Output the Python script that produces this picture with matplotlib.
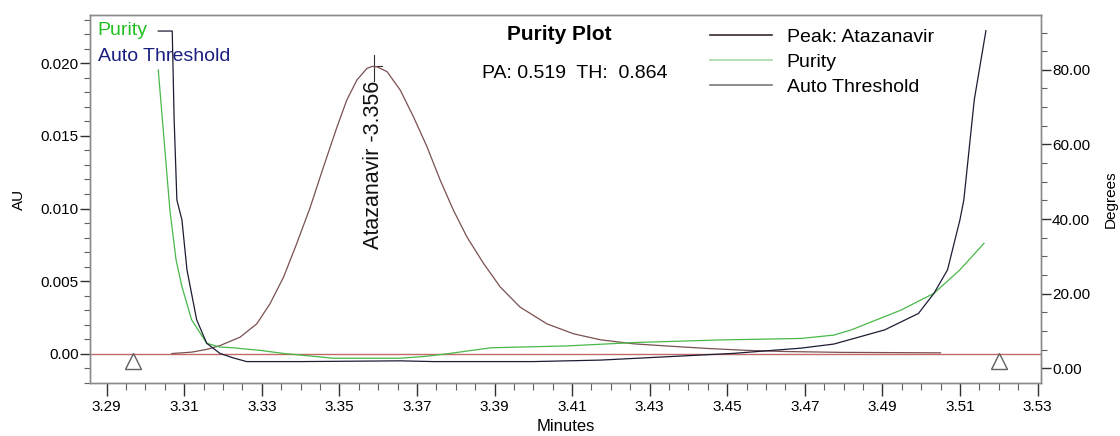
import matplotlib
matplotlib.use("Agg")
import matplotlib.pyplot as plt
from matplotlib.lines import Line2D

plt.rcParams['font.family'] = ['Liberation Sans', 'DejaVu Sans']

# ---------------- data ----------------
peak_x = [3.3068, 3.312, 3.316, 3.3192, 3.3244, 3.3287, 3.3321, 3.3356, 3.3390, 3.3425,
          3.3459, 3.3494, 3.3519, 3.3545, 3.3571, 3.3585, 3.3597, 3.3623, 3.3657, 3.3691,
          3.3726, 3.3760, 3.3794, 3.3829, 3.3872, 3.3915, 3.3966, 3.4035, 3.4104, 3.4173,
          3.4259, 3.4345, 3.445, 3.455, 3.465, 3.48, 3.505]
peak_au = [0.0, 0.0001, 0.0003, 0.00055, 0.00113, 0.00205, 0.00343, 0.00527, 0.00758, 0.0101,
           0.01287, 0.01563, 0.01747, 0.01885, 0.01966, 0.0198, 0.01977, 0.01943, 0.01816, 0.01632,
           0.01425, 0.01195, 0.00988, 0.00803, 0.0062, 0.00458, 0.0032, 0.00205, 0.00136, 0.00095,
           0.00067, 0.00052, 0.00035, 0.00022, 0.00014, 0.00008, 0.00005]

purity_x = [3.3033, 3.3048, 3.3063, 3.3079, 3.3094, 3.3119, 3.3158, 3.3192, 3.3226, 3.3296,
            3.3355, 3.3484, 3.3657, 3.3722, 3.3786, 3.389, 3.4087, 3.426, 3.4482, 3.469,
            3.4775, 3.482, 3.4948, 3.5033, 3.510, 3.5162]
purity_deg = [80.0, 61.2, 42.4, 29.0, 21.9, 13.0, 6.7, 5.7, 5.5, 4.8,
              4.0, 2.7, 2.7, 3.2, 4.0, 5.5, 6.0, 6.9, 7.6, 8.0,
              8.9, 10.3, 15.6, 20.1, 26.4, 33.5]

thresh_x = [3.3033, 3.3069, 3.3074, 3.3081, 3.3094, 3.3107, 3.3132, 3.3158, 3.3192, 3.3226,
            3.3261, 3.340, 3.3657, 3.3742, 3.400, 3.4173, 3.4345, 3.4516, 3.469, 3.4775,
            3.4906, 3.4993, 3.5033, 3.5068, 3.510, 3.511, 3.5137, 3.5167]
thresh_deg = [90.4, 90.4, 66.5, 45.1, 39.8, 26.4, 13.0, 6.7, 4.0, 2.8,
              1.8, 1.8, 2.0, 1.8, 1.8, 2.2, 3.1, 4.0, 5.4, 6.5,
              10.3, 14.7, 20.1, 26.4, 39.8, 45.1, 72.0, 90.5]

marker_x = [3.2967, 3.5201]
marker_au = [-0.00052, -0.00052]

peak_name = "Atazanavir"
peak_rt_label = "3.356"
peak_apex_x = 3.3588

x_ticks = [3.29, 3.31, 3.33, 3.35, 3.37, 3.39, 3.41, 3.43, 3.45, 3.47, 3.49, 3.51, 3.53]
x_ticklabels = ["3.29", "3.31", "3.33", "3.35", "3.37", "3.39", "3.41", "3.43", "3.45",
                "3.47", "3.49", "3.51", "3.53"]
au_ticks = [0.0, 0.005, 0.010, 0.015, 0.020]
au_ticklabels = ["0.00", "0.005", "0.010", "0.015", "0.020"]
deg_ticks = [0, 20, 40, 60, 80]
deg_ticklabels = ["0.00", "20.00", "40.00", "60.00", "80.00"]

legend_labels = ["Peak: Atazanavir", "Purity", "Auto Threshold"]
pa_value = "0.519"
th_value = "0.864"

# ---------------- figure ----------------
fig = plt.figure(figsize=(11.2, 4.36), dpi=100)
ax = fig.add_axes([90/1120, 53/436, 951/1120, 368/436])
ax2 = ax.twinx()

ax.set_xlim(3.2857, 3.5309)
ax.set_ylim(-0.00203, 0.02334)
ax2.set_ylim(-3.94, 94.7)

peak_col = '#7a5050'
base_col = '#c46a6a'
pur_col = '#48b848'
thr_col = '#1c1c34'

ax.axhline(0, color=base_col, lw=1.0, zorder=1)
ax.plot(peak_x, peak_au, color=peak_col, lw=0.9, zorder=3)
ax.plot(marker_x, marker_au, ls='none', marker='^', markersize=12,
        markerfacecolor='none', markeredgecolor='#606060', markeredgewidth=1.0)

ax2.plot(purity_x, purity_deg, color=pur_col, lw=0.9)
ax2.plot(thresh_x, thresh_deg, color=thr_col, lw=0.9)

# peak label
apex_y = max(peak_au)
ax.plot([peak_apex_x, peak_apex_x], [0.0188, 0.0206], color='#303030', lw=0.8)
ax.plot([peak_apex_x, peak_apex_x + 0.0022], [apex_y, apex_y], color='#303030', lw=0.8)
ax.text(peak_apex_x, 0.0188, f"{peak_name} -{peak_rt_label}", rotation=90,
        rotation_mode='anchor', ha='right', va='center', fontsize=15.5, color='#111111')

# ticks & spines
for a in (ax, ax2):
    for s in a.spines.values():
        s.set_color('#8a8a8a')
        s.set_linewidth(1.0)

ax.set_xticks(x_ticks)
ax.set_xticklabels(x_ticklabels)
ax.set_xticks([3.285 + 0.005 * i for i in range(50) if 3.2857 < 3.285 + 0.005 * i < 3.531], minor=True)
ax.set_yticks(au_ticks)
ax.set_yticklabels(au_ticklabels)
ax.set_yticks([-0.002 + 0.001 * i for i in range(26)], minor=True)
ax2.set_yticks(deg_ticks)
ax2.set_yticklabels(deg_ticklabels)
ax2.set_yticks([0 + 5 * i for i in range(19)], minor=True)

ax.tick_params(axis='x', which='major', length=9, width=1, color='#303030',
               labelsize=11, pad=3)
ax.tick_params(axis='x', which='minor', length=5, width=0.8, color='#606060')
ax.tick_params(axis='y', which='major', length=7, width=1, color='#303030',
               labelsize=11, pad=1)
ax.tick_params(axis='y', which='minor', length=4, width=0.8, color='#606060')
ax2.tick_params(axis='y', which='major', length=7, width=1, color='#303030',
                labelsize=11, pad=1)
ax2.tick_params(axis='y', which='minor', length=4, width=0.8, color='#606060')

ax.set_xlabel("Minutes", fontsize=12, labelpad=4)
ax.set_ylabel("AU", fontsize=11, labelpad=11)
ax2.set_ylabel("Degrees", fontsize=11, labelpad=10)

# top-left labels
ax.text(0.008, 0.959, "Purity", transform=ax.transAxes, color='#22c022',
        fontsize=14, ha='left', va='center')
ax.text(0.008, 0.886, "Auto Threshold", transform=ax.transAxes, color='#1a1f80',
        fontsize=14, ha='left', va='center')

# title block
ax.text(0.493, 0.946, "Purity Plot", transform=ax.transAxes, fontsize=15,
        fontweight='bold', ha='center', va='center')
ax.text(0.51, 0.842, f"PA: {pa_value}  TH:  {th_value}", transform=ax.transAxes,
        fontsize=14, ha='center', va='center')

# legend
handles = [Line2D([], [], color='#3a2a2a', lw=1.2),
           Line2D([], [], color='#a8dca8', lw=1.2),
           Line2D([], [], color='#7a7a7a', lw=1.2)]
ax2.legend(handles, legend_labels, loc='upper left',
           bbox_to_anchor=(710/1120, 1 - 28/436), bbox_transform=fig.transFigure,
           frameon=False, fontsize=14, handlelength=3.2, handletextpad=0.75,
           labelspacing=0.38, borderaxespad=0, borderpad=0)

fig.savefig("out.png", dpi=100)
